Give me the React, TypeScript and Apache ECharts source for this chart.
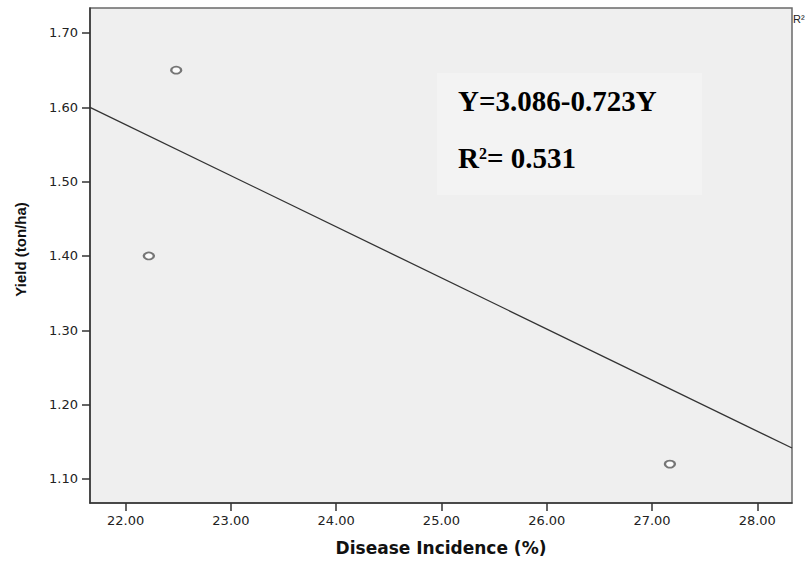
import React, { useEffect, useRef } from "react";
import * as echarts from "echarts";

// Observed points
const diseaseIncidence = [22.48, 22.22, 27.17];
const yieldValues = [1.65, 1.4, 1.12];

// Fitted regression line endpoints
const fitLineX = [21.661, 28.33];
const fitLineY = [1.6, 1.1417];

// Axis ticks
const xTicks = [22, 23, 24, 25, 26, 27, 28];
const yTicks = [1.1, 1.2, 1.3, 1.4, 1.5, 1.6, 1.7];

const equationText = "Y=3.086-0.723Y";
const r2Value = "= 0.531";

export default function App() {
  const ref = useRef<HTMLDivElement>(null);
  useEffect(() => {
    if (!ref.current) return;
    const chart = echarts.init(ref.current, null, { renderer: "svg" });
    const points = diseaseIncidence.map((x, i) => [x, yieldValues[i]]);
    const line = fitLineX.map((x, i) => [x, fitLineY[i]]);
    chart.setOption({
      animation: false,
      backgroundColor: "#ffffff",
      grid: {
        left: 90,
        top: 8,
        right: 14,
        bottom: 58,
        show: true,
        backgroundColor: "#efefef",
        borderColor: "#6a6a6a",
        borderWidth: 1.5,
      },
      xAxis: {
        type: "value",
        min: 21.661,
        max: 28.33,
        name: "Disease Incidence (%)",
        nameLocation: "middle",
        nameGap: 36,
        nameTextStyle: {
          fontFamily: "DejaVu Sans",
          fontWeight: "bold",
          fontSize: 17,
          color: "#111",
        },
        axisLine: { show: true, lineStyle: { color: "#333", width: 1.5 } },
        axisTick: {
          show: true,
          length: 8,
          customValues: xTicks,
          lineStyle: { color: "#333", width: 1.5 },
        },
        axisLabel: {
          margin: 11,
          customValues: xTicks,
          formatter: (v: number) => v.toFixed(2),
          fontFamily: "DejaVu Sans",
          fontSize: 13,
          color: "#222",
        },
        splitLine: { show: false },
      },
      yAxis: {
        type: "value",
        min: 1.0677,
        max: 1.7336,
        name: "Yield (ton/ha)",
        nameLocation: "middle",
        nameGap: 62,
        nameRotate: 90,
        nameTextStyle: {
          fontFamily: "Liberation Sans",
          fontWeight: "bold",
          fontSize: 15,
          color: "#111",
          padding: [0, 0, 0, 12],
        },
        axisLine: { show: true, lineStyle: { color: "#333", width: 1.5 } },
        axisTick: {
          show: true,
          length: 8,
          customValues: yTicks,
          lineStyle: { color: "#333", width: 1.5 },
        },
        axisLabel: {
          margin: 12,
          customValues: yTicks,
          formatter: (v: number) => v.toFixed(2),
          fontFamily: "DejaVu Sans",
          fontSize: 13,
          color: "#222",
        },
        splitLine: { show: false },
      },
      series: [
        {
          type: "line",
          data: line,
          symbol: "none",
          lineStyle: { color: "#333", width: 1.3 },
          silent: true,
        },
        {
          type: "scatter",
          data: points,
          symbol: "emptyCircle",
          symbolSize: [10, 7],
          itemStyle: { color: "#555", borderColor: "#555", borderWidth: 1.6 },
          z: 5,
        },
      ],
      graphic: [
        {
          type: "rect",
          shape: { x: 437, y: 73, width: 265, height: 122 },
          style: { fill: "#f3f3f3" },
          z: 1,
        },
        {
          type: "text",
          x: 458,
          y: 101,
          z: 2,
          style: {
            text: equationText,
            fontFamily: "Liberation Serif",
            fontWeight: "bold",
            fontSize: 29,
            fill: "#000",
            verticalAlign: "middle",
          },
        },
        {
          type: "text",
          x: 458,
          y: 158,
          z: 2,
          style: {
            text: "R",
            fontFamily: "Liberation Serif",
            fontWeight: "bold",
            fontSize: 29,
            fill: "#000",
            verticalAlign: "middle",
          },
        },
        {
          type: "text",
          x: 479,
          y: 153,
          z: 2,
          style: {
            text: "2",
            fontFamily: "Liberation Serif",
            fontWeight: "bold",
            fontSize: 16,
            fill: "#000",
            verticalAlign: "middle",
          },
        },
        {
          type: "text",
          x: 487,
          y: 158,
          z: 2,
          style: {
            text: r2Value,
            fontFamily: "Liberation Serif",
            fontWeight: "bold",
            fontSize: 29,
            fill: "#000",
            verticalAlign: "middle",
          },
        },
        {
          type: "text",
          x: 793,
          y: 19,
          z: 2,
          style: {
            text: "R²",
            fontFamily: "Liberation Sans",
            fontSize: 11,
            fill: "#222",
            verticalAlign: "middle",
          },
        },
      ],
    });
    return () => chart.dispose();
  }, []);
  return (
    <div
      ref={ref}
      style={{ position: "fixed", left: 0, top: 0, width: 806, height: 561 }}
    />
  );
}
